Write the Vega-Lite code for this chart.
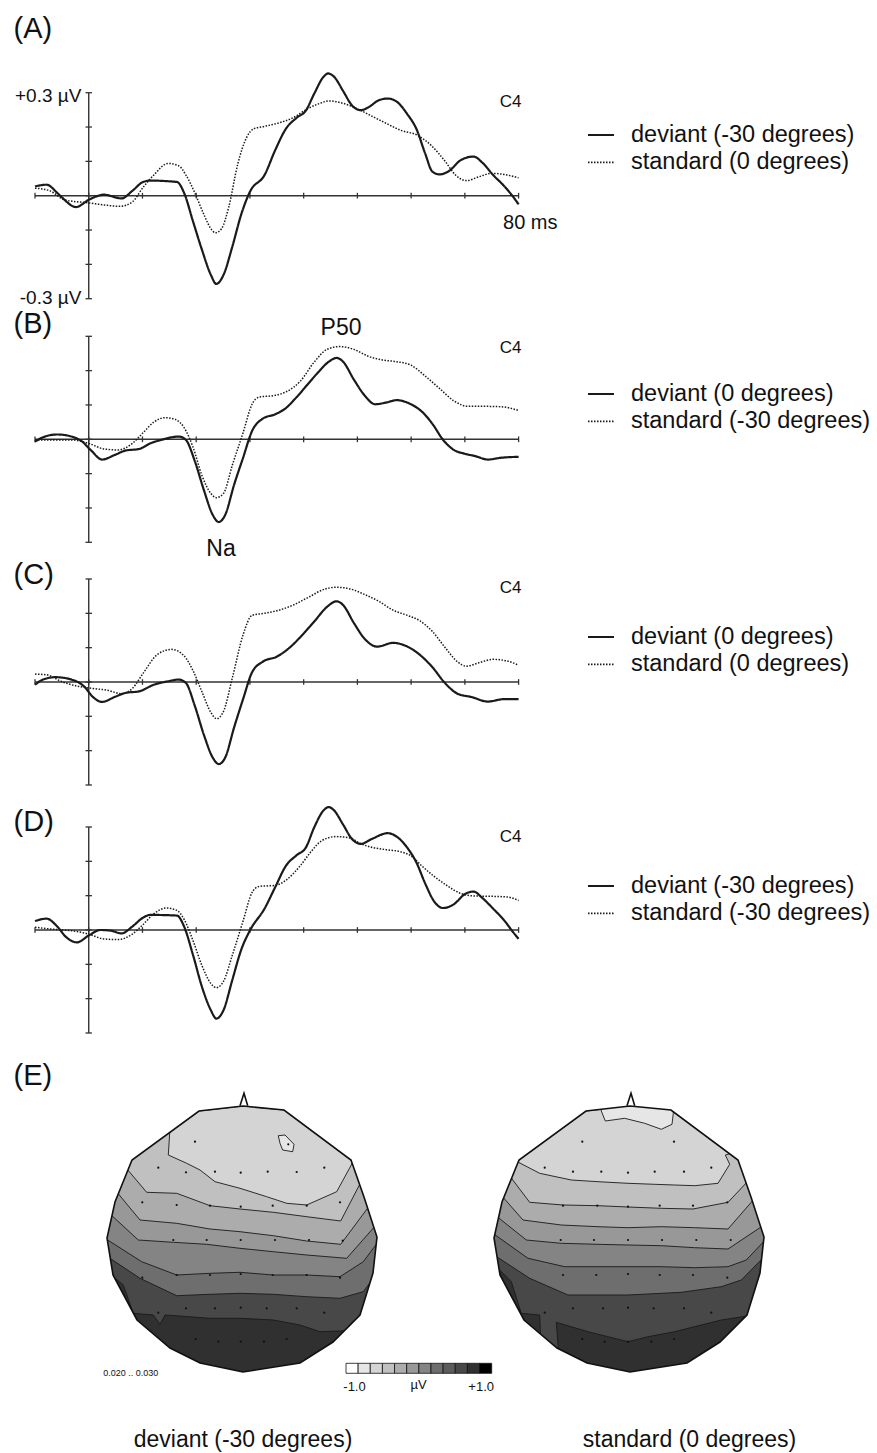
{
"$schema": "https://vega.github.io/schema/vega-lite/v6.json",
"padding": 0,
"spacing": 0,
"bounds": "flush",
"background": "white",
"config": {"view": {"stroke": null}, "axis": {"disable": true}, "font": "Liberation Sans",
  "legend": {"symbolType": "stroke", "symbolSize": 676, "symbolStrokeWidth": 1.8, "symbolStrokeColor": "#1a1a1a", "labelFontSize": 23.5, "labelColor": "#111", "labelOffset": 16, "rowPadding": 1.3, "labelLimit": 400, "padding": 0}},
"resolve": {"scale": {"x": "independent", "y": "independent", "strokeDash": "independent"}, "legend": {"strokeDash": "independent"}},
"datasets": {
"xticks": [{"t":-10},{"t":0},{"t":10},{"t":20},{"t":30},{"t":40},{"t":50},{"t":60},{"t":70},{"t":80}],
"yticks": [{"v":-0.3},{"v":-0.2},{"v":-0.1},{"v":0},{"v":0.1},{"v":0.2},{"v":0.3}],
"panelA": [
{"series":"deviant (-30 degrees)","t":-10,"v":0.027},{"series":"deviant (-30 degrees)","t":-7.85,"v":0.032},{"series":"deviant (-30 degrees)","t":-5.85,"v":0.008},{"series":"deviant (-30 degrees)","t":-4.85,"v":-0.007},{"series":"deviant (-30 degrees)","t":-2.39,"v":-0.033},{"series":"deviant (-30 degrees)","t":0,"v":-0.012},{"series":"deviant (-30 degrees)","t":1.8,"v":0.0},{"series":"deviant (-30 degrees)","t":2.79,"v":0.003},{"series":"deviant (-30 degrees)","t":6.12,"v":-0.008},{"series":"deviant (-30 degrees)","t":8.11,"v":0.014},{"series":"deviant (-30 degrees)","t":10.11,"v":0.04},{"series":"deviant (-30 degrees)","t":11.44,"v":0.044},{"series":"deviant (-30 degrees)","t":16.42,"v":0.04},{"series":"deviant (-30 degrees)","t":17.75,"v":0.008},{"series":"deviant (-30 degrees)","t":19.41,"v":-0.075},{"series":"deviant (-30 degrees)","t":21.08,"v":-0.158},{"series":"deviant (-30 degrees)","t":22.74,"v":-0.231},{"series":"deviant (-30 degrees)","t":23.74,"v":-0.257},{"series":"deviant (-30 degrees)","t":25.07,"v":-0.231},{"series":"deviant (-30 degrees)","t":26.73,"v":-0.148},{"series":"deviant (-30 degrees)","t":28.39,"v":-0.054},{"series":"deviant (-30 degrees)","t":30.05,"v":0.013},{"series":"deviant (-30 degrees)","t":32.71,"v":0.06},{"series":"deviant (-30 degrees)","t":34.71,"v":0.133},{"series":"deviant (-30 degrees)","t":36.7,"v":0.195},{"series":"deviant (-30 degrees)","t":38.7,"v":0.227},{"series":"deviant (-30 degrees)","t":40.36,"v":0.247},{"series":"deviant (-30 degrees)","t":42.02,"v":0.299},{"series":"deviant (-30 degrees)","t":43.68,"v":0.346},{"series":"deviant (-30 degrees)","t":44.55,"v":0.356},{"series":"deviant (-30 degrees)","t":45.68,"v":0.346},{"series":"deviant (-30 degrees)","t":47.34,"v":0.305},{"series":"deviant (-30 degrees)","t":49.0,"v":0.263},{"series":"deviant (-30 degrees)","t":50.66,"v":0.249},{"series":"deviant (-30 degrees)","t":51.99,"v":0.257},{"series":"deviant (-30 degrees)","t":53.99,"v":0.278},{"series":"deviant (-30 degrees)","t":55.65,"v":0.283},{"series":"deviant (-30 degrees)","t":57.31,"v":0.274},{"series":"deviant (-30 degrees)","t":59.31,"v":0.237},{"series":"deviant (-30 degrees)","t":60.97,"v":0.195},{"series":"deviant (-30 degrees)","t":62.63,"v":0.122},{"series":"deviant (-30 degrees)","t":63.96,"v":0.07},{"series":"deviant (-30 degrees)","t":65.29,"v":0.062},{"series":"deviant (-30 degrees)","t":66.95,"v":0.071},{"series":"deviant (-30 degrees)","t":69.28,"v":0.104},{"series":"deviant (-30 degrees)","t":71.61,"v":0.114},{"series":"deviant (-30 degrees)","t":73.27,"v":0.096},{"series":"deviant (-30 degrees)","t":75.27,"v":0.06},{"series":"deviant (-30 degrees)","t":77.26,"v":0.029},{"series":"deviant (-30 degrees)","t":78.92,"v":-0.002},{"series":"deviant (-30 degrees)","t":80.0,"v":-0.025},
{"series":"standard (0 degrees)","t":-10,"v":0.022},{"series":"standard (0 degrees)","t":-7.18,"v":0.014},{"series":"standard (0 degrees)","t":-4.52,"v":-0.012},{"series":"standard (0 degrees)","t":0,"v":-0.021},{"series":"standard (0 degrees)","t":3.46,"v":-0.028},{"series":"standard (0 degrees)","t":5.78,"v":-0.031},{"series":"standard (0 degrees)","t":8.11,"v":-0.018},{"series":"standard (0 degrees)","t":10.11,"v":0.024},{"series":"standard (0 degrees)","t":12.1,"v":0.06},{"series":"standard (0 degrees)","t":14.76,"v":0.094},{"series":"standard (0 degrees)","t":16.76,"v":0.087},{"series":"standard (0 degrees)","t":18.09,"v":0.06},{"series":"standard (0 degrees)","t":19.75,"v":0.008},{"series":"standard (0 degrees)","t":21.41,"v":-0.054},{"series":"standard (0 degrees)","t":22.74,"v":-0.096},{"series":"standard (0 degrees)","t":23.6,"v":-0.108},{"series":"standard (0 degrees)","t":24.73,"v":-0.096},{"series":"standard (0 degrees)","t":26.06,"v":-0.033},{"series":"standard (0 degrees)","t":27.73,"v":0.092},{"series":"standard (0 degrees)","t":29.39,"v":0.17},{"series":"standard (0 degrees)","t":30.72,"v":0.195},{"series":"standard (0 degrees)","t":32.71,"v":0.202},{"series":"standard (0 degrees)","t":35.37,"v":0.212},{"series":"standard (0 degrees)","t":38.03,"v":0.227},{"series":"standard (0 degrees)","t":40.69,"v":0.253},{"series":"standard (0 degrees)","t":43.02,"v":0.269},{"series":"standard (0 degrees)","t":44.68,"v":0.276},{"series":"standard (0 degrees)","t":47.34,"v":0.269},{"series":"standard (0 degrees)","t":50.0,"v":0.253},{"series":"standard (0 degrees)","t":52.66,"v":0.232},{"series":"standard (0 degrees)","t":55.32,"v":0.211},{"series":"standard (0 degrees)","t":57.98,"v":0.191},{"series":"standard (0 degrees)","t":61.3,"v":0.175},{"series":"standard (0 degrees)","t":63.96,"v":0.143},{"series":"standard (0 degrees)","t":66.29,"v":0.101},{"series":"standard (0 degrees)","t":68.28,"v":0.06},{"series":"standard (0 degrees)","t":70.28,"v":0.044},{"series":"standard (0 degrees)","t":72.61,"v":0.055},{"series":"standard (0 degrees)","t":74.93,"v":0.065},{"series":"standard (0 degrees)","t":77.26,"v":0.062},{"series":"standard (0 degrees)","t":80.0,"v":0.052}],
"panelB": [
{"series":"deviant (0 degrees)","t":-10,"v":-0.007},{"series":"deviant (0 degrees)","t":-8.51,"v":0.006},{"series":"deviant (0 degrees)","t":-5.85,"v":0.014},{"series":"deviant (0 degrees)","t":-3.19,"v":0.008},{"series":"deviant (0 degrees)","t":-1.2,"v":-0.007},{"series":"deviant (0 degrees)","t":0.47,"v":-0.033},{"series":"deviant (0 degrees)","t":2.46,"v":-0.059},{"series":"deviant (0 degrees)","t":4.79,"v":-0.046},{"series":"deviant (0 degrees)","t":6.78,"v":-0.033},{"series":"deviant (0 degrees)","t":9.44,"v":-0.028},{"series":"deviant (0 degrees)","t":11.44,"v":-0.012},{"series":"deviant (0 degrees)","t":13.43,"v":-0.002},{"series":"deviant (0 degrees)","t":16.76,"v":0.008},{"series":"deviant (0 degrees)","t":18.09,"v":-0.002},{"series":"deviant (0 degrees)","t":19.75,"v":-0.064},{"series":"deviant (0 degrees)","t":21.41,"v":-0.147},{"series":"deviant (0 degrees)","t":23.07,"v":-0.22},{"series":"deviant (0 degrees)","t":24.2,"v":-0.241},{"series":"deviant (0 degrees)","t":25.4,"v":-0.22},{"series":"deviant (0 degrees)","t":27.06,"v":-0.132},{"series":"deviant (0 degrees)","t":28.72,"v":-0.054},{"series":"deviant (0 degrees)","t":30.39,"v":0.024},{"series":"deviant (0 degrees)","t":32.38,"v":0.06},{"series":"deviant (0 degrees)","t":34.71,"v":0.073},{"series":"deviant (0 degrees)","t":36.7,"v":0.091},{"series":"deviant (0 degrees)","t":38.7,"v":0.123},{"series":"deviant (0 degrees)","t":40.69,"v":0.159},{"series":"deviant (0 degrees)","t":42.69,"v":0.195},{"series":"deviant (0 degrees)","t":44.68,"v":0.226},{"series":"deviant (0 degrees)","t":46.14,"v":0.237},{"series":"deviant (0 degrees)","t":47.34,"v":0.226},{"series":"deviant (0 degrees)","t":49.34,"v":0.174},{"series":"deviant (0 degrees)","t":51.33,"v":0.128},{"series":"deviant (0 degrees)","t":53.32,"v":0.102},{"series":"deviant (0 degrees)","t":55.32,"v":0.107},{"series":"deviant (0 degrees)","t":57.31,"v":0.114},{"series":"deviant (0 degrees)","t":59.97,"v":0.102},{"series":"deviant (0 degrees)","t":61.97,"v":0.081},{"series":"deviant (0 degrees)","t":63.96,"v":0.045},{"series":"deviant (0 degrees)","t":65.96,"v":-0.002},{"series":"deviant (0 degrees)","t":67.95,"v":-0.031},{"series":"deviant (0 degrees)","t":69.95,"v":-0.042},{"series":"deviant (0 degrees)","t":71.94,"v":-0.049},{"series":"deviant (0 degrees)","t":74.27,"v":-0.059},{"series":"deviant (0 degrees)","t":76.6,"v":-0.054},{"series":"deviant (0 degrees)","t":80.0,"v":-0.051},
{"series":"standard (-30 degrees)","t":-10,"v":-0.002},{"series":"standard (-30 degrees)","t":-6.52,"v":-0.002},{"series":"standard (-30 degrees)","t":-3.19,"v":-0.002},{"series":"standard (-30 degrees)","t":0,"v":-0.012},{"series":"standard (-30 degrees)","t":2.79,"v":-0.028},{"series":"standard (-30 degrees)","t":5.45,"v":-0.031},{"series":"standard (-30 degrees)","t":8.11,"v":-0.012},{"series":"standard (-30 degrees)","t":10.11,"v":0.019},{"series":"standard (-30 degrees)","t":12.1,"v":0.05},{"series":"standard (-30 degrees)","t":14.23,"v":0.063},{"series":"standard (-30 degrees)","t":16.09,"v":0.058},{"series":"standard (-30 degrees)","t":17.75,"v":0.034},{"series":"standard (-30 degrees)","t":19.41,"v":-0.023},{"series":"standard (-30 degrees)","t":21.08,"v":-0.106},{"series":"standard (-30 degrees)","t":22.74,"v":-0.158},{"series":"standard (-30 degrees)","t":23.74,"v":-0.17},{"series":"standard (-30 degrees)","t":25.07,"v":-0.158},{"series":"standard (-30 degrees)","t":26.73,"v":-0.075},{"series":"standard (-30 degrees)","t":28.72,"v":0.019},{"series":"standard (-30 degrees)","t":30.39,"v":0.102},{"series":"standard (-30 degrees)","t":31.72,"v":0.123},{"series":"standard (-30 degrees)","t":34.71,"v":0.128},{"series":"standard (-30 degrees)","t":36.7,"v":0.138},{"series":"standard (-30 degrees)","t":39.36,"v":0.169},{"series":"standard (-30 degrees)","t":42.02,"v":0.226},{"series":"standard (-30 degrees)","t":44.35,"v":0.262},{"series":"standard (-30 degrees)","t":46.68,"v":0.27},{"series":"standard (-30 degrees)","t":49.34,"v":0.262},{"series":"standard (-30 degrees)","t":52.0,"v":0.242},{"series":"standard (-30 degrees)","t":54.65,"v":0.231},{"series":"standard (-30 degrees)","t":57.31,"v":0.226},{"series":"standard (-30 degrees)","t":59.97,"v":0.216},{"series":"standard (-30 degrees)","t":62.63,"v":0.184},{"series":"standard (-30 degrees)","t":65.29,"v":0.148},{"series":"standard (-30 degrees)","t":67.95,"v":0.112},{"series":"standard (-30 degrees)","t":70.61,"v":0.096},{"series":"standard (-30 degrees)","t":73.27,"v":0.096},{"series":"standard (-30 degrees)","t":76.6,"v":0.095},{"series":"standard (-30 degrees)","t":80.0,"v":0.084}],
"panelC": [
{"series":"deviant (0 degrees)","t":-10,"v":-0.008},{"series":"deviant (0 degrees)","t":-8.51,"v":0.007},{"series":"deviant (0 degrees)","t":-6.18,"v":0.014},{"series":"deviant (0 degrees)","t":-3.19,"v":0.007},{"series":"deviant (0 degrees)","t":-0.86,"v":-0.013},{"series":"deviant (0 degrees)","t":0.8,"v":-0.044},{"series":"deviant (0 degrees)","t":2.46,"v":-0.058},{"series":"deviant (0 degrees)","t":4.79,"v":-0.044},{"series":"deviant (0 degrees)","t":6.78,"v":-0.032},{"series":"deviant (0 degrees)","t":9.44,"v":-0.027},{"series":"deviant (0 degrees)","t":12.1,"v":-0.008},{"series":"deviant (0 degrees)","t":14.76,"v":0.002},{"series":"deviant (0 degrees)","t":16.76,"v":0.007},{"series":"deviant (0 degrees)","t":18.09,"v":-0.003},{"series":"deviant (0 degrees)","t":19.75,"v":-0.07},{"series":"deviant (0 degrees)","t":21.41,"v":-0.153},{"series":"deviant (0 degrees)","t":23.07,"v":-0.22},{"series":"deviant (0 degrees)","t":24.2,"v":-0.239},{"series":"deviant (0 degrees)","t":25.4,"v":-0.22},{"series":"deviant (0 degrees)","t":27.06,"v":-0.132},{"series":"deviant (0 degrees)","t":28.72,"v":-0.05},{"series":"deviant (0 degrees)","t":30.39,"v":0.028},{"series":"deviant (0 degrees)","t":32.38,"v":0.059},{"series":"deviant (0 degrees)","t":35.04,"v":0.074},{"series":"deviant (0 degrees)","t":37.37,"v":0.1},{"series":"deviant (0 degrees)","t":39.69,"v":0.136},{"series":"deviant (0 degrees)","t":42.02,"v":0.177},{"series":"deviant (0 degrees)","t":44.35,"v":0.219},{"series":"deviant (0 degrees)","t":46.14,"v":0.235},{"series":"deviant (0 degrees)","t":47.34,"v":0.224},{"series":"deviant (0 degrees)","t":49.34,"v":0.172},{"series":"deviant (0 degrees)","t":51.33,"v":0.126},{"series":"deviant (0 degrees)","t":53.66,"v":0.103},{"series":"deviant (0 degrees)","t":56.65,"v":0.114},{"series":"deviant (0 degrees)","t":59.31,"v":0.103},{"series":"deviant (0 degrees)","t":61.64,"v":0.079},{"series":"deviant (0 degrees)","t":63.96,"v":0.043},{"series":"deviant (0 degrees)","t":66.29,"v":-0.003},{"series":"deviant (0 degrees)","t":68.62,"v":-0.034},{"series":"deviant (0 degrees)","t":71.28,"v":-0.044},{"series":"deviant (0 degrees)","t":74.27,"v":-0.057},{"series":"deviant (0 degrees)","t":77.26,"v":-0.05},{"series":"deviant (0 degrees)","t":80.0,"v":-0.05},
{"series":"standard (0 degrees)","t":-10,"v":0.023},{"series":"standard (0 degrees)","t":-7.85,"v":0.021},{"series":"standard (0 degrees)","t":-5.19,"v":0.002},{"series":"standard (0 degrees)","t":-1.86,"v":-0.013},{"series":"standard (0 degrees)","t":0.8,"v":-0.019},{"series":"standard (0 degrees)","t":3.46,"v":-0.024},{"series":"standard (0 degrees)","t":6.12,"v":-0.034},{"series":"standard (0 degrees)","t":8.11,"v":-0.019},{"series":"standard (0 degrees)","t":10.11,"v":0.025},{"series":"standard (0 degrees)","t":12.77,"v":0.08},{"series":"standard (0 degrees)","t":15.43,"v":0.095},{"series":"standard (0 degrees)","t":17.75,"v":0.076},{"series":"standard (0 degrees)","t":19.41,"v":0.033},{"series":"standard (0 degrees)","t":21.08,"v":-0.029},{"series":"standard (0 degrees)","t":22.74,"v":-0.089},{"series":"standard (0 degrees)","t":23.8,"v":-0.107},{"series":"standard (0 degrees)","t":25.07,"v":-0.086},{"series":"standard (0 degrees)","t":26.73,"v":0.012},{"series":"standard (0 degrees)","t":28.72,"v":0.137},{"series":"standard (0 degrees)","t":30.39,"v":0.194},{"series":"standard (0 degrees)","t":32.71,"v":0.2},{"series":"standard (0 degrees)","t":35.37,"v":0.209},{"series":"standard (0 degrees)","t":38.03,"v":0.224},{"series":"standard (0 degrees)","t":40.69,"v":0.245},{"series":"standard (0 degrees)","t":44.02,"v":0.271},{"series":"standard (0 degrees)","t":46.01,"v":0.276},{"series":"standard (0 degrees)","t":48.67,"v":0.271},{"series":"standard (0 degrees)","t":51.33,"v":0.255},{"series":"standard (0 degrees)","t":53.99,"v":0.235},{"series":"standard (0 degrees)","t":56.65,"v":0.209},{"series":"standard (0 degrees)","t":59.31,"v":0.194},{"series":"standard (0 degrees)","t":61.64,"v":0.178},{"series":"standard (0 degrees)","t":63.96,"v":0.147},{"series":"standard (0 degrees)","t":66.29,"v":0.101},{"series":"standard (0 degrees)","t":68.62,"v":0.059},{"series":"standard (0 degrees)","t":70.28,"v":0.046},{"series":"standard (0 degrees)","t":72.61,"v":0.056},{"series":"standard (0 degrees)","t":75.27,"v":0.066},{"series":"standard (0 degrees)","t":77.93,"v":0.061},{"series":"standard (0 degrees)","t":80.0,"v":0.049}],
"panelD": [
{"series":"deviant (-30 degrees)","t":-10,"v":0.026},{"series":"deviant (-30 degrees)","t":-7.85,"v":0.033},{"series":"deviant (-30 degrees)","t":-5.85,"v":0.01},{"series":"deviant (-30 degrees)","t":-4.19,"v":-0.021},{"series":"deviant (-30 degrees)","t":-2.19,"v":-0.036},{"series":"deviant (-30 degrees)","t":0,"v":-0.016},{"series":"deviant (-30 degrees)","t":2.13,"v":0.0},{"series":"deviant (-30 degrees)","t":4.12,"v":-0.002},{"series":"deviant (-30 degrees)","t":6.12,"v":-0.01},{"series":"deviant (-30 degrees)","t":8.11,"v":0.01},{"series":"deviant (-30 degrees)","t":10.11,"v":0.036},{"series":"deviant (-30 degrees)","t":11.44,"v":0.044},{"series":"deviant (-30 degrees)","t":16.42,"v":0.042},{"series":"deviant (-30 degrees)","t":17.75,"v":0.01},{"series":"deviant (-30 degrees)","t":19.41,"v":-0.073},{"series":"deviant (-30 degrees)","t":21.08,"v":-0.166},{"series":"deviant (-30 degrees)","t":22.74,"v":-0.234},{"series":"deviant (-30 degrees)","t":23.74,"v":-0.258},{"series":"deviant (-30 degrees)","t":25.07,"v":-0.234},{"series":"deviant (-30 degrees)","t":26.73,"v":-0.145},{"series":"deviant (-30 degrees)","t":28.39,"v":-0.057},{"series":"deviant (-30 degrees)","t":30.05,"v":0.0},{"series":"deviant (-30 degrees)","t":32.71,"v":0.062},{"series":"deviant (-30 degrees)","t":34.71,"v":0.125},{"series":"deviant (-30 degrees)","t":36.7,"v":0.187},{"series":"deviant (-30 degrees)","t":38.7,"v":0.218},{"series":"deviant (-30 degrees)","t":40.36,"v":0.239},{"series":"deviant (-30 degrees)","t":42.02,"v":0.301},{"series":"deviant (-30 degrees)","t":43.68,"v":0.348},{"series":"deviant (-30 degrees)","t":44.68,"v":0.358},{"series":"deviant (-30 degrees)","t":45.68,"v":0.348},{"series":"deviant (-30 degrees)","t":47.34,"v":0.307},{"series":"deviant (-30 degrees)","t":49.0,"v":0.265},{"series":"deviant (-30 degrees)","t":50.66,"v":0.251},{"series":"deviant (-30 degrees)","t":52.66,"v":0.265},{"series":"deviant (-30 degrees)","t":55.65,"v":0.282},{"series":"deviant (-30 degrees)","t":57.31,"v":0.272},{"series":"deviant (-30 degrees)","t":59.31,"v":0.239},{"series":"deviant (-30 degrees)","t":60.97,"v":0.197},{"series":"deviant (-30 degrees)","t":62.63,"v":0.135},{"series":"deviant (-30 degrees)","t":64.29,"v":0.083},{"series":"deviant (-30 degrees)","t":65.96,"v":0.064},{"series":"deviant (-30 degrees)","t":67.95,"v":0.075},{"series":"deviant (-30 degrees)","t":69.95,"v":0.104},{"series":"deviant (-30 degrees)","t":71.61,"v":0.112},{"series":"deviant (-30 degrees)","t":73.27,"v":0.093},{"series":"deviant (-30 degrees)","t":75.27,"v":0.062},{"series":"deviant (-30 degrees)","t":77.26,"v":0.029},{"series":"deviant (-30 degrees)","t":78.92,"v":-0.005},{"series":"deviant (-30 degrees)","t":80.0,"v":-0.026},
{"series":"standard (-30 degrees)","t":-10,"v":0.008},{"series":"standard (-30 degrees)","t":-6.52,"v":0.002},{"series":"standard (-30 degrees)","t":-3.19,"v":-0.002},{"series":"standard (-30 degrees)","t":0,"v":-0.012},{"series":"standard (-30 degrees)","t":2.79,"v":-0.026},{"series":"standard (-30 degrees)","t":5.45,"v":-0.028},{"series":"standard (-30 degrees)","t":8.11,"v":-0.012},{"series":"standard (-30 degrees)","t":10.11,"v":0.016},{"series":"standard (-30 degrees)","t":12.1,"v":0.047},{"series":"standard (-30 degrees)","t":14.43,"v":0.064},{"series":"standard (-30 degrees)","t":16.42,"v":0.057},{"series":"standard (-30 degrees)","t":17.75,"v":0.031},{"series":"standard (-30 degrees)","t":19.41,"v":-0.031},{"series":"standard (-30 degrees)","t":21.08,"v":-0.104},{"series":"standard (-30 degrees)","t":22.74,"v":-0.156},{"series":"standard (-30 degrees)","t":23.74,"v":-0.168},{"series":"standard (-30 degrees)","t":25.07,"v":-0.15},{"series":"standard (-30 degrees)","t":26.73,"v":-0.073},{"series":"standard (-30 degrees)","t":28.72,"v":0.026},{"series":"standard (-30 degrees)","t":30.39,"v":0.109},{"series":"standard (-30 degrees)","t":31.72,"v":0.127},{"series":"standard (-30 degrees)","t":34.71,"v":0.13},{"series":"standard (-30 degrees)","t":36.7,"v":0.145},{"series":"standard (-30 degrees)","t":39.36,"v":0.187},{"series":"standard (-30 degrees)","t":41.36,"v":0.228},{"series":"standard (-30 degrees)","t":43.35,"v":0.26},{"series":"standard (-30 degrees)","t":46.01,"v":0.272},{"series":"standard (-30 degrees)","t":48.67,"v":0.268},{"series":"standard (-30 degrees)","t":50.66,"v":0.251},{"series":"standard (-30 degrees)","t":52.66,"v":0.241},{"series":"standard (-30 degrees)","t":55.32,"v":0.234},{"series":"standard (-30 degrees)","t":57.98,"v":0.228},{"series":"standard (-30 degrees)","t":59.97,"v":0.216},{"series":"standard (-30 degrees)","t":61.97,"v":0.187},{"series":"standard (-30 degrees)","t":64.29,"v":0.156},{"series":"standard (-30 degrees)","t":66.62,"v":0.13},{"series":"standard (-30 degrees)","t":69.28,"v":0.106},{"series":"standard (-30 degrees)","t":71.94,"v":0.099},{"series":"standard (-30 degrees)","t":75.27,"v":0.098},{"series":"standard (-30 degrees)","t":77.93,"v":0.096},{"series":"standard (-30 degrees)","t":80.0,"v":0.086}],
"bands": [
{"part":"deviant base","level":3,"geo":{"type":"Polygon","coordinates":[[[1,132],[42,128],[109,78],[122,41],[135,1],[131,-35],[118,-77],[91,-104],[58,-125],[1,-134],[-42,-125],[-72,-110],[-105,-82],[-129,-37],[-135,0],[-127,36],[-110,78],[-43,127],[1,132]]]}},
{"part":"deviant L1","level":4,"geo":{"type":"Polygon","coordinates":[[[-72,110],[-73.7,83],[-55.3,74.7],[-42,68],[-27,56.3],[-2,49.7],[24.7,41.3],[44.7,34.7],[64.7,33],[94.7,46.3],[112,78],[160,78],[160,-160],[-160,-160],[-160,110],[-72,110]]]}},
{"part":"deviant L2","level":5,"geo":{"type":"Polygon","coordinates":[[[-117,71.3],[-95.3,45.7],[-65.3,44.7],[-32,32.3],[-2,29],[31.3,25.7],[64.7,21.3],[98.7,17],[120,58],[160,58],[160,-160],[-160,-160],[-160,71.3],[-117,71.3]]]}},
{"part":"deviant L3","level":6,"geo":{"type":"Polygon","coordinates":[[[-126,47],[-102,18],[-65.3,14.7],[-32,9],[-2,6.3],[31.3,2.3],[64.7,-3],[98.7,-6.3],[128,33],[160,33],[160,-160],[-160,-160],[-160,47],[-126,47]]]}},
{"part":"deviant L4","level":7,"geo":{"type":"Polygon","coordinates":[[[-133,25],[-103.7,-2],[-68.7,-4.3],[-35.3,-6.3],[-2,-10.3],[31.3,-13.7],[64.7,-17],[104.7,-20.3],[134,13],[160,13],[160,-160],[-160,-160],[-160,25],[-133,25]]]}},
{"part":"deviant L5","level":8,"geo":{"type":"Polygon","coordinates":[[[-139,1],[-100.3,-23.7],[-65.3,-37],[-32,-35.3],[-2,-34.3],[31.3,-37],[64.7,-37],[98,-38.7],[121.3,-23.7],[139,0],[160,0],[160,-160],[-160,-160],[-160,1],[-139,1]]]}},
{"part":"deviant L6","level":10,"geo":{"type":"Polygon","coordinates":[[[-137,-17],[-102,-40.3],[-65.3,-57.7],[-32,-56.3],[-2,-55.3],[31.3,-56.3],[64.7,-58.7],[98,-60.3],[121.3,-53.7],[136,-34],[160,-34],[160,-160],[-160,-160],[-160,-17],[-137,-17]]]}},
{"part":"deviant L7","level":11,"geo":{"type":"Polygon","coordinates":[[[-133,-35],[-118.7,-47],[-108.7,-75.3],[-88.7,-77],[-82,-86.3],[-77,-77],[-32,-80.3],[-2,-80.3],[31.3,-82],[58,-87],[78,-93.7],[98,-93],[110,-92],[160,-92],[160,-160],[-160,-160],[-160,-35],[-133,-35]]]}},
{"part":"deviant spot","level":2,"geo":{"type":"Polygon","coordinates":[[[36.3,102.3],[43,103],[52,93.7],[50.7,86.3],[40.7,88],[38,94.7],[36.3,102.3]]]}},
{"part":"standard base","level":3,"geo":{"type":"Polygon","coordinates":[[[388,132],[429,128],[496,78],[509,41],[522,1],[518,-35],[505,-77],[478,-104],[445,-125],[388,-134],[345,-125],[315,-110],[282,-82],[258,-37],[252,0],[260,36],[277,78],[344,127],[388,132]]]}},
{"part":"standard top","level":2,"geo":{"type":"Polygon","coordinates":[[[358,135],[359.3,127],[363.3,117],[382.7,119.7],[402.7,114.7],[419.3,108.7],[430,113.7],[431.3,124.7],[431,135],[358,135]]]}},
{"part":"standard L1","level":4,"geo":{"type":"Polygon","coordinates":[[[272,78],[297.7,64.7],[329.3,58],[356,56.3],[386,54.7],[412.7,53.7],[432.7,53],[452.7,52.3],[476,54.7],[487.7,73.7],[483.3,83],[494,86],[560,86],[560,-160],[220,-160],[220,78],[272,78]]]}},
{"part":"standard L2","level":5,"geo":{"type":"Polygon","coordinates":[[[267,63],[287.7,35.7],[321,33],[356,32.3],[386,31],[419.3,29.7],[451,29],[486,35.7],[507,58],[560,58],[560,-160],[220,-160],[220,63],[267,63]]]}},
{"part":"standard L3","level":6,"geo":{"type":"Polygon","coordinates":[[[259,43],[281,18],[319.3,13],[356,11.3],[386,10.3],[419.3,11.3],[452.7,10.3],[486,9],[513,40],[560,40],[560,-160],[220,-160],[220,43],[259,43]]]}},
{"part":"standard L4","level":7,"geo":{"type":"Polygon","coordinates":[[[253,23],[284.3,-2],[319.3,-5.3],[356,-6.3],[386,-7],[419.3,-7.7],[452.7,-9.7],[486,-11],[522,13],[560,13],[560,-160],[220,-160],[220,23],[253,23]]]}},
{"part":"standard L5","level":8,"geo":{"type":"Polygon","coordinates":[[[249,6],[286,-20.3],[322.7,-28.7],[356,-28.7],[386,-28.7],[419.3,-28.7],[452.7,-29.7],[486,-28.7],[504.3,-22],[526,1],[560,1],[560,-160],[220,-160],[220,6],[249,6]]]}},
{"part":"standard L6","level":10,"geo":{"type":"Polygon","coordinates":[[[249,-15],[287.7,-40.3],[326,-57],[386,-57],[439.3,-54.3],[479.3,-48.7],[499.3,-42],[524,-17],[560,-17],[560,-160],[220,-160],[220,-15],[249,-15]]]}},
{"part":"standard bottom","level":11,"geo":{"type":"Polygon","coordinates":[[[314.3,-84.3],[346,-93.7],[386,-103.7],[406,-98.7],[432.7,-93.7],[459.3,-87],[479.3,-82],[512,-77],[560,-77],[560,-160],[318,-160],[317,-120],[314.3,-84.3]]]}},
{"part":"standard wedge","level":11,"geo":{"type":"Polygon","coordinates":[[[252,-30],[257.7,-32],[269.3,-43.7],[279.3,-75.3],[297.7,-77],[298.7,-103.7],[300,-160],[220,-160],[220,-30],[252,-30]]]}}
],
"mask": [{"part":"outside","geo":{"type":"Polygon","coordinates":[
[[-242,193],[635,193],[635,-215],[-242,-215],[-242,193]],
[[1,132],[-43,127],[-110,78],[-127,36],[-135,0],[-129,-37],[-105,-82],[-72,-110],[-42,-125],[1,-134],[58,-125],[91,-104],[118,-77],[131,-35],[135,1],[122,41],[109,78],[42,128],[1,132]],
[[388,132],[344,127],[277,78],[260,36],[252,0],[258,-37],[282,-82],[315,-110],[345,-125],[388,-134],[445,-125],[478,-104],[505,-77],[518,-35],[522,1],[509,41],[496,78],[429,128],[388,132]]]}}],
"outline": [
{"part":"deviant head","geo":{"type":"Polygon","coordinates":[[[1,132],[42,128],[109,78],[122,41],[135,1],[131,-35],[118,-77],[91,-104],[58,-125],[1,-134],[-42,-125],[-72,-110],[-105,-82],[-129,-37],[-135,0],[-127,36],[-110,78],[-43,127],[1,132]]]}},
{"part":"deviant nose","geo":{"type":"LineString","coordinates":[[-2,132.3],[2,144.7],[5.7,132.3]]}},
{"part":"standard head","geo":{"type":"Polygon","coordinates":[[[388,132],[429,128],[496,78],[509,41],[522,1],[518,-35],[505,-77],[478,-104],[445,-125],[388,-134],[345,-125],[315,-110],[282,-82],[258,-37],[252,0],[260,36],[277,78],[344,127],[388,132]]]}},
{"part":"standard nose","geo":{"type":"LineString","coordinates":[[385,132.3],[389,144.7],[392.7,132.3]]}}],
"scalebar": [
{"level":1,"geo":{"type":"Polygon","coordinates":[[[104,-125.3],[116.14,-125.3],[116.14,-135.3],[104,-135.3],[104,-125.3]]]}},
{"level":2,"geo":{"type":"Polygon","coordinates":[[[116.14,-125.3],[128.28,-125.3],[128.28,-135.3],[116.14,-135.3],[116.14,-125.3]]]}},
{"level":3,"geo":{"type":"Polygon","coordinates":[[[128.28,-125.3],[140.42,-125.3],[140.42,-135.3],[128.28,-135.3],[128.28,-125.3]]]}},
{"level":4,"geo":{"type":"Polygon","coordinates":[[[140.42,-125.3],[152.56,-125.3],[152.56,-135.3],[140.42,-135.3],[140.42,-125.3]]]}},
{"level":5,"geo":{"type":"Polygon","coordinates":[[[152.56,-125.3],[164.7,-125.3],[164.7,-135.3],[152.56,-135.3],[152.56,-125.3]]]}},
{"level":6,"geo":{"type":"Polygon","coordinates":[[[164.7,-125.3],[176.84,-125.3],[176.84,-135.3],[164.7,-135.3],[164.7,-125.3]]]}},
{"level":7,"geo":{"type":"Polygon","coordinates":[[[176.84,-125.3],[188.98,-125.3],[188.98,-135.3],[176.84,-135.3],[176.84,-125.3]]]}},
{"level":8,"geo":{"type":"Polygon","coordinates":[[[188.98,-125.3],[201.12,-125.3],[201.12,-135.3],[188.98,-135.3],[188.98,-125.3]]]}},
{"level":9,"geo":{"type":"Polygon","coordinates":[[[201.12,-125.3],[213.26,-125.3],[213.26,-135.3],[201.12,-135.3],[201.12,-125.3]]]}},
{"level":10,"geo":{"type":"Polygon","coordinates":[[[213.26,-125.3],[225.4,-125.3],[225.4,-135.3],[213.26,-135.3],[213.26,-125.3]]]}},
{"level":11,"geo":{"type":"Polygon","coordinates":[[[225.4,-125.3],[237.54,-125.3],[237.54,-135.3],[225.4,-135.3],[225.4,-125.3]]]}},
{"level":12,"geo":{"type":"Polygon","coordinates":[[[237.54,-125.3],[249.68,-125.3],[249.68,-135.3],[237.54,-135.3],[237.54,-125.3]]]}}],
"electrodes": [
{"u":-47,"v":96.3},{"u":46.3,"v":93.7},
{"u":-83.7,"v":70.3},{"u":-56,"v":65.7},{"u":-27,"v":66.3},{"u":-1.3,"v":65.3},{"u":25.7,"v":66.3},{"u":54.7,"v":66},{"u":82.3,"v":70.3},
{"u":-99.7,"v":35.7},{"u":-65.3,"v":33},{"u":-32,"v":32.3},{"u":-1.3,"v":31.3},{"u":30.7,"v":32.3},{"u":64.7,"v":32.3},{"u":98,"v":35.7},
{"u":-68.7,"v":-2},{"u":-35.3,"v":-2},{"u":-1.3,"v":-2},{"u":33,"v":-2},{"u":67,"v":-2},{"u":100.7,"v":-2.7},
{"u":-99.7,"v":-39.7},{"u":-65.3,"v":-37},{"u":-32,"v":-37},{"u":-1.3,"v":-36},{"u":30.7,"v":-37},{"u":64.7,"v":-37},{"u":98,"v":-39.7},
{"u":-83.7,"v":-74.7},{"u":-56,"v":-70.3},{"u":-27,"v":-70.3},{"u":-1.3,"v":-69.7},{"u":24.7,"v":-70.3},{"u":54.7,"v":-70.3},{"u":82.3,"v":-74.7},
{"u":-46.3,"v":-101},{"u":-23.7,"v":-103.7},{"u":-1.3,"v":-103.7},{"u":22,"v":-103.7},{"u":44.7,"v":-101},
{"u":340.3,"v":96.3},{"u":432,"v":96.3},
{"u":302.7,"v":70.3},{"u":331,"v":66.3},{"u":359.3,"v":66.3},{"u":386,"v":65.3},{"u":412.7,"v":66.3},{"u":442,"v":66.3},{"u":469.3,"v":70.3},
{"u":321,"v":32.3},{"u":355.3,"v":32.3},{"u":386,"v":31.3},{"u":417.7,"v":32.3},{"u":451,"v":32.3},{"u":485.3,"v":35.7},
{"u":318.7,"v":-2},{"u":352,"v":-2},{"u":386,"v":-2},{"u":420,"v":-2},{"u":454.3,"v":-2},{"u":488.7,"v":-2},
{"u":321,"v":-37},{"u":354.3,"v":-37},{"u":386,"v":-36},{"u":417.7,"v":-37},{"u":451,"v":-37},{"u":485.3,"v":-39.7},
{"u":302.7,"v":-74.7},{"u":331,"v":-70.3},{"u":361,"v":-70.3},{"u":386,"v":-69.7},{"u":411.7,"v":-70.3},{"u":442,"v":-70.3},{"u":469.3,"v":-74.7},
{"u":340.3,"v":-101},{"u":362.7,"v":-103.7},{"u":386,"v":-103.7},{"u":409.3,"v":-103.7},{"u":432,"v":-101}]
},
"vconcat": [
{"width": 877, "height": 318, "data": {"values": [{}]},
 "layer": [
  {"mark": {"type": "rule", "color": "#333", "strokeWidth": 1.4}, "encoding": {"x": {"datum": -10, "scale": {"domain": [-16.514, 146.70], "nice": false, "zero": false}}, "x2": {"datum": 80}, "y": {"datum": 0, "scale": {"domain": [-0.3562, 0.5700], "nice": false, "zero": false}}}},
  {"mark": {"type": "rule", "color": "#333", "strokeWidth": 1.4}, "encoding": {"x": {"datum": 0}, "y": {"datum": -0.3}, "y2": {"datum": 0.3}}},
  {"data": {"name": "xticks"}, "mark": {"type": "rule", "color": "#333", "strokeWidth": 1.3}, "encoding": {"x": {"field": "t", "type": "quantitative"}, "y": {"datum": -0.0083}, "y2": {"datum": 0.0083}}},
  {"data": {"name": "yticks"}, "mark": {"type": "rule", "color": "#333", "strokeWidth": 1.3}, "encoding": {"y": {"field": "v", "type": "quantitative"}, "x": {"datum": -0.6}, "x2": {"datum": 0.6}}},
  {"data": {"name": "panelA"}, "transform": [{"filter": {"field": "series", "equal": "standard (0 degrees)"}}], "mark": {"type": "line", "interpolate": "monotone", "color": "#1a1a1a", "strokeWidth": 1.5},
   "encoding": {"x": {"field": "t", "type": "quantitative"}, "y": {"field": "v", "type": "quantitative"},
    "strokeDash": {"field": "series", "type": "nominal", "scale": {"domain": ["deviant (-30 degrees)", "standard (0 degrees)"], "range": [[1, 0], [1.5, 1.5]]}, "legend": {"orient": "none", "legendX": 587, "legendY": 121, "title": null}}}},
  {"data": {"name": "panelA"}, "transform": [{"filter": {"field": "series", "equal": "deviant (-30 degrees)"}}], "mark": {"type": "line", "interpolate": "monotone", "color": "#1a1a1a", "strokeWidth": 2.2},
   "encoding": {"x": {"field": "t", "type": "quantitative"}, "y": {"field": "v", "type": "quantitative"},
    "strokeDash": {"field": "series", "type": "nominal"}}},
  {"mark": {"type": "text", "text": "(A)", "align": "left", "baseline": "alphabetic", "fontSize": 29, "color": "#111"}, "encoding": {"x": {"datum": -13.98}, "y": {"datum": 0.4579}}},
  {"mark": {"type": "text", "text": "+0.3 µV", "align": "right", "baseline": "alphabetic", "fontSize": 19, "color": "#111"}, "encoding": {"x": {"datum": -1.365}, "y": {"datum": 0.2735}}},
  {"mark": {"type": "text", "text": "-0.3 µV", "align": "right", "baseline": "alphabetic", "fontSize": 19, "color": "#111"}, "encoding": {"x": {"datum": -1.365}, "y": {"datum": -0.3143}}},
  {"mark": {"type": "text", "text": "C4", "align": "right", "baseline": "alphabetic", "fontSize": 17, "color": "#111"}, "encoding": {"x": {"datum": 80.52}, "y": {"datum": 0.2584}}},
  {"mark": {"type": "text", "text": "80 ms", "align": "left", "baseline": "alphabetic", "fontSize": 20, "color": "#111"}, "encoding": {"x": {"datum": 77.1}, "y": {"datum": -0.0958}}}
 ]},
{"width": 877, "height": 244, "data": {"values": [{}]},
 "layer": [
  {"mark": {"type": "rule", "color": "#333", "strokeWidth": 1.4}, "encoding": {"x": {"datum": -10, "scale": {"domain": [-16.514, 146.70], "nice": false, "zero": false}}, "x2": {"datum": 80}, "y": {"datum": 0, "scale": {"domain": [-0.3574, 0.3533], "nice": false, "zero": false}}}},
  {"mark": {"type": "rule", "color": "#333", "strokeWidth": 1.4}, "encoding": {"x": {"datum": 0}, "y": {"datum": -0.3}, "y2": {"datum": 0.3}}},
  {"data": {"name": "xticks"}, "mark": {"type": "rule", "color": "#333", "strokeWidth": 1.3}, "encoding": {"x": {"field": "t", "type": "quantitative"}, "y": {"datum": -0.0083}, "y2": {"datum": 0.0083}}},
  {"data": {"name": "yticks"}, "mark": {"type": "rule", "color": "#333", "strokeWidth": 1.3}, "encoding": {"y": {"field": "v", "type": "quantitative"}, "x": {"datum": -0.6}, "x2": {"datum": 0.6}}},
  {"data": {"name": "panelB"}, "transform": [{"filter": {"field": "series", "equal": "standard (-30 degrees)"}}], "mark": {"type": "line", "interpolate": "monotone", "color": "#1a1a1a", "strokeWidth": 1.5},
   "encoding": {"x": {"field": "t", "type": "quantitative"}, "y": {"field": "v", "type": "quantitative"},
    "strokeDash": {"field": "series", "type": "nominal", "scale": {"domain": ["deviant (0 degrees)", "standard (-30 degrees)"], "range": [[1, 0], [1.5, 1.5]]}, "legend": {"orient": "none", "legendX": 587, "legendY": 62, "title": null}}}},
  {"data": {"name": "panelB"}, "transform": [{"filter": {"field": "series", "equal": "deviant (0 degrees)"}}], "mark": {"type": "line", "interpolate": "monotone", "color": "#1a1a1a", "strokeWidth": 2.2},
   "encoding": {"x": {"field": "t", "type": "quantitative"}, "y": {"field": "v", "type": "quantitative"},
    "strokeDash": {"field": "series", "type": "nominal"}}},
  {"mark": {"type": "text", "text": "(B)", "align": "left", "baseline": "alphabetic", "fontSize": 29, "color": "#111"}, "encoding": {"x": {"datum": -13.98}, "y": {"datum": 0.309}}},
  {"mark": {"type": "text", "text": "C4", "align": "right", "baseline": "alphabetic", "fontSize": 17, "color": "#111"}, "encoding": {"x": {"datum": 80.52}, "y": {"datum": 0.2528}}},
  {"mark": {"type": "text", "text": "P50", "align": "center", "baseline": "alphabetic", "fontSize": 23, "color": "#111"}, "encoding": {"x": {"datum": 46.95}, "y": {"datum": 0.305}}},
  {"mark": {"type": "text", "text": "Na", "align": "center", "baseline": "alphabetic", "fontSize": 23, "color": "#111"}, "encoding": {"x": {"datum": 24.62}, "y": {"datum": -0.34}}}
 ]},
{"width": 877, "height": 243, "data": {"values": [{}]},
 "layer": [
  {"mark": {"type": "rule", "color": "#333", "strokeWidth": 1.4}, "encoding": {"x": {"datum": -10, "scale": {"domain": [-16.514, 146.70], "nice": false, "zero": false}}, "x2": {"datum": 80}, "y": {"datum": 0, "scale": {"domain": [-0.3583, 0.3495], "nice": false, "zero": false}}}},
  {"mark": {"type": "rule", "color": "#333", "strokeWidth": 1.4}, "encoding": {"x": {"datum": 0}, "y": {"datum": -0.3}, "y2": {"datum": 0.3}}},
  {"data": {"name": "xticks"}, "mark": {"type": "rule", "color": "#333", "strokeWidth": 1.3}, "encoding": {"x": {"field": "t", "type": "quantitative"}, "y": {"datum": -0.0083}, "y2": {"datum": 0.0083}}},
  {"data": {"name": "yticks"}, "mark": {"type": "rule", "color": "#333", "strokeWidth": 1.3}, "encoding": {"y": {"field": "v", "type": "quantitative"}, "x": {"datum": -0.6}, "x2": {"datum": 0.6}}},
  {"data": {"name": "panelC"}, "transform": [{"filter": {"field": "series", "equal": "standard (0 degrees)"}}], "mark": {"type": "line", "interpolate": "monotone", "color": "#1a1a1a", "strokeWidth": 1.5},
   "encoding": {"x": {"field": "t", "type": "quantitative"}, "y": {"field": "v", "type": "quantitative"},
    "strokeDash": {"field": "series", "type": "nominal", "scale": {"domain": ["deviant (0 degrees)", "standard (0 degrees)"], "range": [[1, 0], [1.5, 1.5]]}, "legend": {"orient": "none", "legendX": 587, "legendY": 61, "title": null}}}},
  {"data": {"name": "panelC"}, "transform": [{"filter": {"field": "series", "equal": "deviant (0 degrees)"}}], "mark": {"type": "line", "interpolate": "monotone", "color": "#1a1a1a", "strokeWidth": 2.2},
   "encoding": {"x": {"field": "t", "type": "quantitative"}, "y": {"field": "v", "type": "quantitative"},
    "strokeDash": {"field": "series", "type": "nominal"}}},
  {"mark": {"type": "text", "text": "(C)", "align": "left", "baseline": "alphabetic", "fontSize": 29, "color": "#111"}, "encoding": {"x": {"datum": -13.98}, "y": {"datum": 0.2846}}},
  {"mark": {"type": "text", "text": "C4", "align": "right", "baseline": "alphabetic", "fontSize": 17, "color": "#111"}, "encoding": {"x": {"datum": 80.52}, "y": {"datum": 0.2595}}}
 ]},
{"width": 877, "height": 240, "data": {"values": [{}]},
 "layer": [
  {"mark": {"type": "rule", "color": "#333", "strokeWidth": 1.4}, "encoding": {"x": {"datum": -10, "scale": {"domain": [-16.514, 146.70], "nice": false, "zero": false}}, "x2": {"datum": 80}, "y": {"datum": 0, "scale": {"domain": [-0.3350, 0.3641], "nice": false, "zero": false}}}},
  {"mark": {"type": "rule", "color": "#333", "strokeWidth": 1.4}, "encoding": {"x": {"datum": 0}, "y": {"datum": -0.3}, "y2": {"datum": 0.3}}},
  {"data": {"name": "xticks"}, "mark": {"type": "rule", "color": "#333", "strokeWidth": 1.3}, "encoding": {"x": {"field": "t", "type": "quantitative"}, "y": {"datum": -0.0083}, "y2": {"datum": 0.0083}}},
  {"data": {"name": "yticks"}, "mark": {"type": "rule", "color": "#333", "strokeWidth": 1.3}, "encoding": {"y": {"field": "v", "type": "quantitative"}, "x": {"datum": -0.6}, "x2": {"datum": 0.6}}},
  {"data": {"name": "panelD"}, "transform": [{"filter": {"field": "series", "equal": "standard (-30 degrees)"}}], "mark": {"type": "line", "interpolate": "monotone", "color": "#1a1a1a", "strokeWidth": 1.5},
   "encoding": {"x": {"field": "t", "type": "quantitative"}, "y": {"field": "v", "type": "quantitative"},
    "strokeDash": {"field": "series", "type": "nominal", "scale": {"domain": ["deviant (-30 degrees)", "standard (-30 degrees)"], "range": [[1, 0], [1.5, 1.5]]}, "legend": {"orient": "none", "legendX": 587, "legendY": 67, "title": null}}}},
  {"data": {"name": "panelD"}, "transform": [{"filter": {"field": "series", "equal": "deviant (-30 degrees)"}}], "mark": {"type": "line", "interpolate": "monotone", "color": "#1a1a1a", "strokeWidth": 2.2},
   "encoding": {"x": {"field": "t", "type": "quantitative"}, "y": {"field": "v", "type": "quantitative"},
    "strokeDash": {"field": "series", "type": "nominal"}}},
  {"mark": {"type": "text", "text": "(D)", "align": "left", "baseline": "alphabetic", "fontSize": 29, "color": "#111"}, "encoding": {"x": {"datum": -13.98}, "y": {"datum": 0.2884}}},
  {"mark": {"type": "text", "text": "C4", "align": "right", "baseline": "alphabetic", "fontSize": 17, "color": "#111"}, "encoding": {"x": {"datum": 80.52}, "y": {"datum": 0.2549}}}
 ]},
{"width": 877, "height": 408, "data": {"values": [{}]},
 "projection": {"type": "identity", "reflectY": true, "scale": 1, "translate": [242, 193]},
 "layer": [
  {"data": {"name": "bands"}, "mark": {"type": "geoshape", "stroke": "#1a1a1a", "strokeWidth": 0.9},
   "encoding": {"shape": {"field": "geo", "type": "geojson"}, "fill": {"field": "level", "type": "ordinal", "scale": {"domain": [1,2,3,4,5,6,7,8,9,10,11,12], "range": ["#ffffff","#e6e6e6","#d4d4d4","#c0c0c0","#acacac","#989898","#848484","#6e6e6e","#5c5c5c","#484848","#303030","#000000"]}, "legend": null}}},
  {"data": {"name": "mask"}, "mark": {"type": "geoshape", "fill": "white", "strokeOpacity": 0, "strokeWidth": 0},
   "encoding": {"shape": {"field": "geo", "type": "geojson"}}},
  {"data": {"name": "outline"}, "mark": {"type": "geoshape", "filled": false, "stroke": "#111", "strokeWidth": 1.6},
   "encoding": {"shape": {"field": "geo", "type": "geojson"}}},
  {"data": {"name": "scalebar"}, "mark": {"type": "geoshape", "stroke": "#111", "strokeWidth": 0.8},
   "encoding": {"shape": {"field": "geo", "type": "geojson"}, "fill": {"field": "level", "type": "ordinal", "legend": null}}},
  {"data": {"name": "electrodes"}, "mark": {"type": "circle", "size": 5, "color": "#111", "opacity": 1},
   "encoding": {"longitude": {"field": "u", "type": "quantitative"}, "latitude": {"field": "v", "type": "quantitative"}}},
  {"mark": {"type": "text", "text": "(E)", "align": "left", "baseline": "alphabetic", "fontSize": 29, "color": "#111"}, "encoding": {"longitude": {"datum": -228.4}, "latitude": {"datum": 153}}},
  {"mark": {"type": "text", "text": "0.020 .. 0.030", "align": "left", "baseline": "alphabetic", "fontSize": 9, "color": "#111"}, "encoding": {"longitude": {"datum": -138.7}, "latitude": {"datum": -138}}},
  {"mark": {"type": "text", "text": "-1.0", "align": "left", "baseline": "alphabetic", "fontSize": 13, "color": "#111"}, "encoding": {"longitude": {"datum": 101.3}, "latitude": {"datum": -153}}},
  {"mark": {"type": "text", "text": "µV", "align": "center", "baseline": "alphabetic", "fontSize": 13, "color": "#111"}, "encoding": {"longitude": {"datum": 176.7}, "latitude": {"datum": -151}}},
  {"mark": {"type": "text", "text": "+1.0", "align": "right", "baseline": "alphabetic", "fontSize": 13, "color": "#111"}, "encoding": {"longitude": {"datum": 252}, "latitude": {"datum": -153}}},
  {"mark": {"type": "text", "text": "deviant (-30 degrees)", "align": "center", "baseline": "alphabetic", "fontSize": 23, "color": "#111"}, "encoding": {"longitude": {"datum": 1}, "latitude": {"datum": -208.5}}},
  {"mark": {"type": "text", "text": "standard (0 degrees)", "align": "center", "baseline": "alphabetic", "fontSize": 23, "color": "#111"}, "encoding": {"longitude": {"datum": 447.5}, "latitude": {"datum": -208.5}}}
 ]}
]
}
